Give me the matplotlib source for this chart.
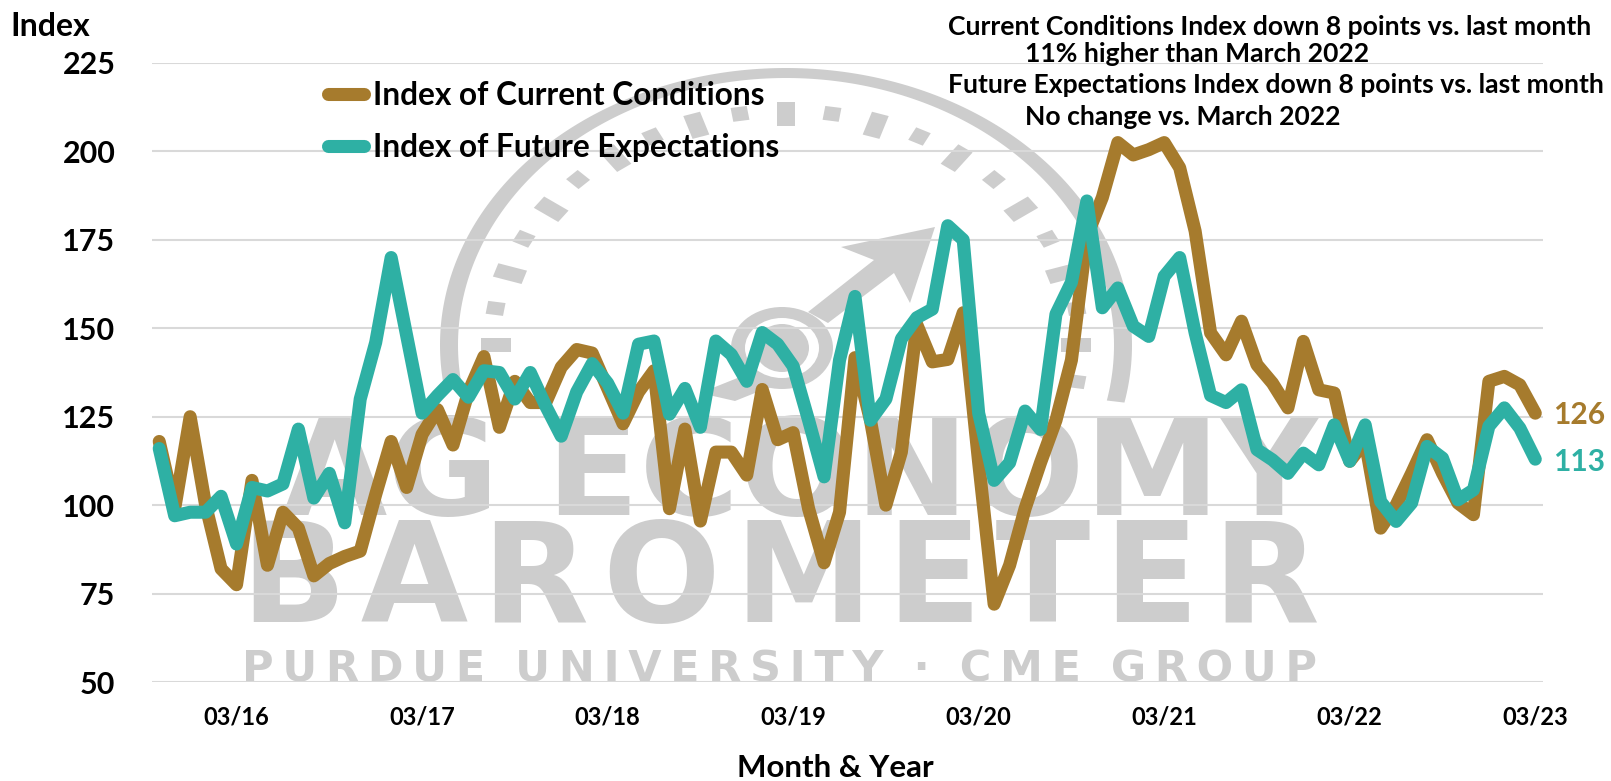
import numpy as np
import matplotlib
matplotlib.use("Agg")
import matplotlib.pyplot as plt
from matplotlib.patches import Polygon, Ellipse

current = [118, 99, 125, 100, 82, 77.5, 107, 83, 98, 93.5,
           80, 83.5, 85.5, 87, 103, 118, 105, 120, 127, 117,
           132, 142, 122, 135, 129, 129, 139, 144, 143, 133,
           123, 132, 138, 99, 121.5, 95.5, 115, 115, 108.5, 132.7,
           118.5, 120.5, 99, 83.7, 98, 141.7, 124, 100, 115, 151,
           140.5, 141.2, 154.4, 112, 72, 83, 99, 112, 124, 141,
           176, 187, 202.5, 199, 200.5, 202.5, 195.4, 177.5, 148.7, 142.5,
           152, 139.7, 134.5, 127.5, 146.3, 132.6, 131.7, 112.4, 118, 93.5,
           100, 109, 118.5, 109, 100.6, 97.3, 135, 136.4, 134, 126]
future = [116, 97, 98, 98, 102.5, 89, 105, 104, 106, 121.5,
          102, 109, 95, 130, 146, 170, 148, 126, 131, 135.5,
          130.5, 138, 137.5, 130, 137.5, 128, 119.5, 132, 140, 134.5,
          126, 145.5, 146.4, 125.7, 133, 122, 146.4, 142.6, 135, 148.8,
          145.5, 139.3, 124, 108, 141, 159, 124, 130, 147, 153,
          155.4, 179, 175, 126, 107, 112, 126.6, 121.4, 154, 163,
          186, 155.8, 161.4, 150.6, 147.7, 164.7, 170, 148.7, 131, 129,
          132.6, 115.7, 112.8, 109, 114.7, 111.4, 122.7, 112.4, 122.7, 101,
          95.4, 100.6, 116.6, 113.3, 101.5, 104.3, 122.3, 127.5, 121.8, 113]
x_tick_pos = [5, 17, 29, 41, 53, 65, 77, 89]
x_tick_labels = ["03/16", "03/17", "03/18", "03/19", "03/20", "03/21", "03/22", "03/23"]
y_ticks = [50, 75, 100, 125, 150, 175, 200, 225]
series_names = ["Index of Current Conditions", "Index of Future Expectations"]
notes = ["Current Conditions Index down 8 points vs. last month",
         "11% higher than March 2022",
         "Future Expectations Index down 8 points vs. last month",
         "No change vs. March 2022"]

BROWN = "#A67B2D"
TEAL = "#2EB0A4"
GRID = "#D9D9D9"
WM = "#CDCDCD"
FONT = "Lato"
W, H = 1611, 781

fig = plt.figure(figsize=(W / 100, H / 100), dpi=100, facecolor="white")

# watermark layer in pixel coordinates
bg = fig.add_axes([0, 0, 1, 1], zorder=-1)
bg.set_xlim(0, W)
bg.set_ylim(H, 0)
bg.axis("off")

cx, cy = 786, 345
t = np.radians(np.linspace(188, -12, 200))
outer = np.c_[cx + 346 * np.cos(t), cy - 277 * np.sin(t)]
inner = np.c_[cx + 328 * np.cos(t), cy - 267 * np.sin(t)]
bg.add_patch(Polygon(np.r_[outer, inner[::-1]], fc=WM, ec="none"))

SX = 289 / 230
for k, deg in enumerate(np.arange(180, -10, -9)):
    a = np.radians(deg)
    long_tick = k % 2 == 0
    r0, r1, hw = (219, 243, 7) if long_tick else (227, 241, 6.5)
    ux, uy = np.cos(a), np.sin(a)
    vx, vy = -uy, ux
    pts = [(r0 * ux - hw * vx, r0 * uy - hw * vy), (r1 * ux - hw * vx, r1 * uy - hw * vy),
           (r1 * ux + hw * vx, r1 * uy + hw * vy), (r0 * ux + hw * vx, r0 * uy + hw * vy)]
    bg.add_patch(Polygon([(cx + SX * p, cy - q) for p, q in pts], fc=WM, ec="none"))

bg.add_patch(Ellipse((782, 348), 102, 82, fc=WM, ec="none"))
bg.add_patch(Ellipse((782, 348), 74, 60, fc="white", ec="none"))
bg.add_patch(Ellipse((782, 348), 54, 48, fc=WM, ec="none"))
bg.add_patch(Polygon([(808, 312), (874, 260), (841, 247), (935, 227), (910, 303),
                      (894, 273), (828, 323)], fc=WM, ec="none"))
bg.add_patch(Polygon([(745, 375), (700, 393), (735, 401), (775, 385)], fc=WM, ec="none"))

bg.text(800, 515, "AG ECONOMY", family="DejaVu Sans", weight="bold", fontsize=98,
        color=WM, ha="center", va="baseline")
bg.text(780, 622, "B\u200aA\u200aR\u200aO\u200aM\u200aE\u200aT\u200aE\u200aR",
        family="DejaVu Sans", weight="bold", fontsize=100, color=WM, ha="center", va="baseline")
bg.text(780, 682,
        "\u2009".join("PURDUE") + "  " + "\u2009".join("UNIVERSITY") + "  ·  " + "\u2009".join("CME") + "  " + "\u2009".join("GROUP"),
        family="DejaVu Sans", weight="bold", fontsize=31, color=WM, ha="center", va="baseline")

# chart
L, R, T, B = 151.5, 1543, 63, 682
ax = fig.add_axes([L / W, (H - B) / H, (R - L) / W, (B - T) / H], facecolor="none")
x = np.arange(len(current))
l1, = ax.plot(x, current, color=BROWN, lw=9.4, solid_joinstyle="round", solid_capstyle="round",
              label=series_names[0], zorder=3, clip_on=False)
l2, = ax.plot(x, future, color=TEAL, lw=9.4, solid_joinstyle="round", solid_capstyle="round",
              label=series_names[1], zorder=4, clip_on=False)
ax.set_xlim(-0.5, 89.5)
ax.set_ylim(50, 225)
ax.set_yticks(y_ticks)
ax.set_xticks(x_tick_pos)
ax.set_xticklabels(x_tick_labels)
ax.grid(axis="y", color=GRID, lw=1.5, zorder=1)
ax.grid(axis="x", visible=False)
ax.set_axisbelow(True)
for s in ax.spines.values():
    s.set_visible(False)
ax.tick_params(axis="y", length=0, pad=26, labelsize=22)
ax.tick_params(axis="x", length=0, pad=17, labelsize=17)
for lab in ax.get_yticklabels() + ax.get_xticklabels():
    lab.set_family(FONT)
    lab.set_weight("bold")
    lab.set_color("black")

leg = ax.legend(handles=[l1, l2], loc="upper left", bbox_to_anchor=((328 - L) / (R - L), (B - 81) / (B - T)),
                frameon=False, prop={"family": FONT, "weight": "bold", "size": 22.8},
                handlelength=1.15, handletextpad=0.28, labelspacing=0.73,
                borderpad=0, borderaxespad=0)
for h in leg.get_lines():
    h.set_linewidth(9.4)

fig.text(10 / W, 1 - 27 / H, "Index", family=FONT, weight="bold", fontsize=23, va="center", ha="left")
fig.text(835 / W, 1 - 768 / H, "Month & Year", family=FONT, weight="bold", fontsize=22.5, va="center", ha="center")

note_pos = [(948, 27), (1025, 54), (948, 85), (1025, 117)]
for s, (px, py) in zip(notes, note_pos):
    fig.text(px / W, 1 - py / H, s, family=FONT, weight="bold", fontsize=19.1, va="center", ha="left")

fig.text(1553 / W, 1 - 415 / H, str(round(current[-1])), family=FONT, weight="bold", fontsize=21.5,
         color=BROWN, va="center", ha="left")
fig.text(1553 / W, 1 - 462 / H, str(round(future[-1])), family=FONT, weight="bold", fontsize=21.5,
         color=TEAL, va="center", ha="left")

fig.savefig("out.png", dpi=100)
